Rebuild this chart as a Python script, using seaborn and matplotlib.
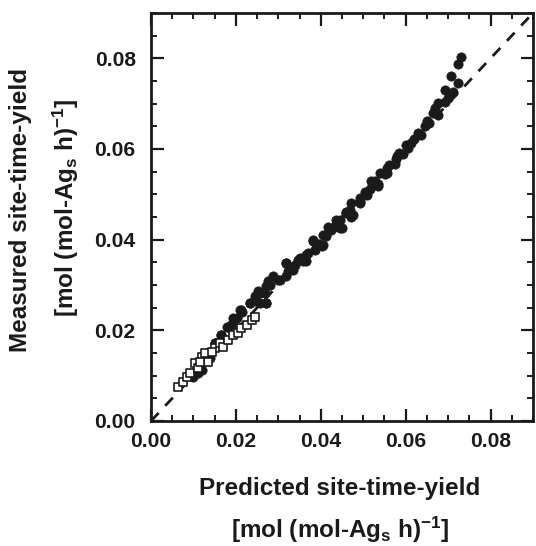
import matplotlib
matplotlib.use("Agg")
import matplotlib.pyplot as plt
import seaborn as sns
import pandas as pd
from matplotlib.ticker import MultipleLocator

# Filled circles: (predicted, measured)
circ_x = [0.0731, 0.0723, 0.0707, 0.0723, 0.0692, 0.0711, 0.0676, 0.0692, 0.0664, 0.0676,
          0.0656, 0.0645, 0.0629, 0.0637, 0.0613, 0.0605, 0.0594, 0.0578, 0.0574, 0.0555,
          0.0551, 0.0527, 0.0535, 0.0504, 0.0492, 0.0492, 0.0468, 0.0472, 0.0445, 0.0449,
          0.0425, 0.0413, 0.0402, 0.0382, 0.0386, 0.0366, 0.0358, 0.0351, 0.0319, 0.0323,
          0.0304, 0.0288, 0.0272, 0.0276, 0.0253, 0.0245, 0.0272, 0.0256, 0.0233, 0.0209,
          0.0202, 0.0182, 0.0166, 0.0151, 0.0131, 0.0111, 0.0100, 0.0119, 0.0140, 0.0160,
          0.0190, 0.0215, 0.0340, 0.0395, 0.0430, 0.0460, 0.0515, 0.0560, 0.0585, 0.0620,
          0.0555, 0.0535, 0.0519, 0.0508, 0.0492, 0.0472, 0.0476, 0.0460, 0.0437, 0.0445,
          0.0417, 0.0405, 0.0405, 0.0382, 0.0370, 0.0366, 0.0347, 0.0335, 0.0319, 0.0319,
          0.0300, 0.0280, 0.0268, 0.0256, 0.0245, 0.0233, 0.0272, 0.0213, 0.0194, 0.0178,
          0.0166, 0.0151, 0.0125, 0.0107, 0.0650, 0.0668, 0.0700, 0.0600, 0.0580, 0.0540]
circ_y = [0.0803, 0.0787, 0.0760, 0.0746, 0.0731, 0.0726, 0.0702, 0.0703, 0.0680, 0.0676,
          0.0658, 0.0650, 0.0636, 0.0630, 0.0614, 0.0603, 0.0588, 0.0577, 0.0566, 0.0558,
          0.0544, 0.0529, 0.0518, 0.0505, 0.0493, 0.0481, 0.0466, 0.0451, 0.0444, 0.0426,
          0.0422, 0.0407, 0.0385, 0.0400, 0.0378, 0.0367, 0.0352, 0.0360, 0.0349, 0.0330,
          0.0312, 0.0319, 0.0297, 0.0308, 0.0286, 0.0275, 0.0260, 0.0260, 0.0260, 0.0245,
          0.0227, 0.0208, 0.0190, 0.0172, 0.0150, 0.0105, 0.0098, 0.0113, 0.0140, 0.0175,
          0.0215, 0.0240, 0.0345, 0.0390, 0.0428, 0.0462, 0.0512, 0.0565, 0.0592, 0.0622,
          0.0547, 0.0522, 0.0529, 0.0499, 0.0485, 0.0481, 0.0455, 0.0459, 0.0444, 0.0426,
          0.0429, 0.0411, 0.0389, 0.0396, 0.0371, 0.0352, 0.0356, 0.0334, 0.0349, 0.0319,
          0.0312, 0.0301, 0.0282, 0.0282, 0.0264, 0.0260, 0.0260, 0.0245, 0.0227, 0.0208,
          0.0190, 0.0172, 0.0135, 0.0110, 0.0662, 0.0690, 0.0712, 0.0608, 0.0585, 0.0548]

# Open squares
sq_x = [0.0064, 0.0076, 0.0084, 0.0092, 0.0104, 0.0111, 0.0119, 0.0127, 0.0135, 0.0151,
        0.0162, 0.0170, 0.0182, 0.0194, 0.0205, 0.0213, 0.0225, 0.0237, 0.0245, 0.0143, 0.0115]
sq_y = [0.0076, 0.0087, 0.0098, 0.0105, 0.0128, 0.0116, 0.0142, 0.0150, 0.0131, 0.0161,
        0.0172, 0.0164, 0.0179, 0.0190, 0.0194, 0.0205, 0.0212, 0.0223, 0.0230, 0.0153, 0.0131]

parity_x = [0.0, 0.09]
parity_y = [0.0, 0.09]

xticks = [0.00, 0.02, 0.04, 0.06, 0.08]
yticks = [0.00, 0.02, 0.04, 0.06, 0.08]

sns.set_style("ticks")
plt.rcParams['font.family'] = ['Liberation Sans', 'DejaVu Sans']
plt.rcParams['font.weight'] = 'bold'
plt.rcParams['mathtext.fontset'] = 'custom'
plt.rcParams['mathtext.rm'] = 'Liberation Sans:bold'
plt.rcParams['mathtext.bf'] = 'Liberation Sans:bold'
plt.rcParams['mathtext.it'] = 'Liberation Sans:bold'
plt.rcParams['mathtext.default'] = 'rm'

fig = plt.figure(figsize=(5.36, 5.46), dpi=100)
ax = fig.add_axes([151/536, 1 - 421/546, (533-151)/536, (421-13)/546])

df_c = pd.DataFrame({"x": circ_x, "y": circ_y})
df_s = pd.DataFrame({"x": sq_x, "y": sq_y})

ax.plot(parity_x, parity_y, color="#1a1a1a", lw=2.0, ls=(0, (4, 3.5)), zorder=1)
sns.scatterplot(data=df_c, x="x", y="y", ax=ax, marker="o", s=45, color="#1a1a1a",
                edgecolor="#1a1a1a", linewidth=0.5, zorder=2)
sns.scatterplot(data=df_s, x="x", y="y", ax=ax, marker="s", s=26, color="white",
                edgecolor="#1a1a1a", linewidth=1.2, zorder=3)

ax.set_xlim(0, 0.09)
ax.set_ylim(0, 0.09)
ax.set_xticks(xticks)
ax.set_yticks(yticks)
ax.set_xticklabels([f"{v:.2f}" for v in xticks])
ax.set_yticklabels([f"{v:.2f}" for v in yticks])
ax.xaxis.set_minor_locator(MultipleLocator(0.005))
ax.yaxis.set_minor_locator(MultipleLocator(0.005))
ax.tick_params(which="major", direction="in", length=9, width=1.6, top=True, right=True,
               labelsize=15.2, colors="#1a1a1a")
ax.tick_params(axis="y", which="major", pad=11)
ax.tick_params(axis="x", which="major", pad=8)
ax.tick_params(which="minor", direction="in", length=4.5, width=1.4, top=True, right=True,
               colors="#1a1a1a")
for sp in ax.spines.values():
    sp.set_linewidth(2.0)
    sp.set_color("#1a1a1a")
ax.set_xlabel("")
ax.set_ylabel("")

fs = 17.5
fig.text(340/536, 1 - 488/546, "Predicted site-time-yield", ha="center", va="center",
         fontsize=fs, fontweight="bold", color="#1a1a1a")
fig.text(340/536, 1 - 530/546, r"[mol (mol-Ag$_s$ h)$^{-1}$]", ha="center", va="center",
         fontsize=fs, fontweight="bold", color="#1a1a1a")
fig.text(21/536, 1 - 210/546, "Measured site-time-yield", ha="center", va="center",
         rotation=90, fontsize=fs, fontweight="bold", color="#1a1a1a")
fig.text(66/536, 1 - 208/546, r"[mol (mol-Ag$_s$ h)$^{-1}$]", ha="center", va="center",
         rotation=90, fontsize=fs, fontweight="bold", color="#1a1a1a")

fig.savefig("out.png", dpi=100)
